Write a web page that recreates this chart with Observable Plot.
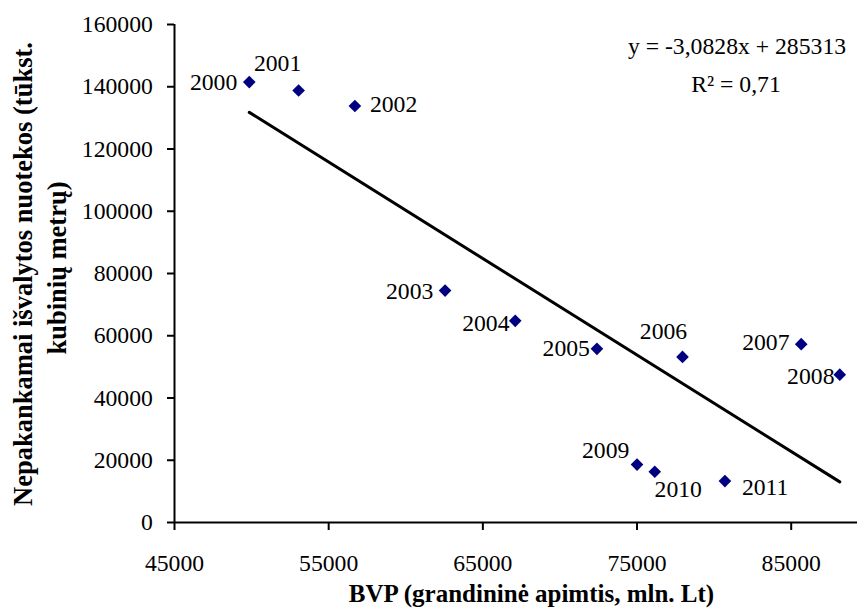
<!DOCTYPE html>
<html><head><meta charset="utf-8">
<script src="https://cdn.jsdelivr.net/npm/d3@7"></script>
<script src="https://cdn.jsdelivr.net/npm/@observablehq/plot@0.6"></script>
<style>body{margin:0;background:#fff} svg{display:block}</style>
</head><body><div id="chart"></div>
<script>
// ---- data ----
const years = ["2000","2001","2002","2003","2004","2005","2006","2007","2008","2009","2010","2011"];
const bvp = [49850, 53050, 56700, 62550, 67100, 72400, 77950, 85650, 88150, 75000, 76150, 80700];
const nuotekos = [141500, 138800, 133800, 74500, 64800, 55800, 53200, 57300, 47500, 18600, 16300, 13300];
const xTicks = [45000, 55000, 65000, 75000, 85000];
const yTicks = [0, 20000, 40000, 60000, 80000, 100000, 120000, 140000, 160000];
const xTitle = "BVP (grandininė apimtis, mln. Lt)";
const yTitleLines = ["Nepakankamai išvalytos nuotekos (tūkst.", "kubinių metrų)"];
const equationText = "y = -3,0828x + 285313";
const rSquaredText = "R² = 0,71";

// ---- label placement (styling only) ----
const labelPlacement = {
  "2000": {anchor: "end", dx: -12, dy: 0.7},
  "2001": {anchor: "middle", dx: -21, dy: -27},
  "2002": {anchor: "start", dx: 15, dy: -2},
  "2003": {anchor: "end", dx: -11.7, dy: 0.4},
  "2004": {anchor: "end", dx: -5.7, dy: 2.7},
  "2005": {anchor: "end", dx: -7, dy: 0},
  "2006": {anchor: "middle", dx: -19, dy: -26},
  "2007": {anchor: "end", dx: -11.7, dy: -1.5},
  "2008": {anchor: "end", dx: -5.3, dy: 1.8},
  "2009": {anchor: "end", dx: -7.7, dy: -14},
  "2010": {anchor: "middle", dx: 23.5, dy: 17.3},
  "2011": {anchor: "start", dx: 17, dy: 6.4}
};

const points = years.map((year, i) => ({year, x: bvp[i], y: nuotekos[i]}));
const FONT = '"Liberation Serif", "Times New Roman", serif';
const FS = 23.7;

const labelMarks = points.map(p => {
  const s = labelPlacement[p.year];
  return Plot.text([p], {x: "x", y: "y", text: "year", textAnchor: s.anchor, dx: s.dx, dy: s.dy,
    lineAnchor: "middle", fill: "black", fontSize: FS});
});

const chart = Plot.plot({
  width: 857, height: 609,
  marginLeft: 174, marginRight: 0, marginTop: 24, marginBottom: 87,
  style: {fontFamily: FONT, fontSize: FS + "px", background: "white", color: "black", overflow: "visible"},
  x: {domain: [45000, 89300]},
  y: {domain: [0, 160000]},
  marks: [
    Plot.axisX({ticks: xTicks, tickSize: 8, tickPadding: 24, tickFormat: d3.format("d"), label: null,
      stroke: "black", strokeWidth: 2, fill: "black", fontSize: FS}),
    Plot.axisY({ticks: yTicks, tickSize: 7, tickPadding: 14.6, tickFormat: d3.format("d"), label: null,
      stroke: "black", strokeWidth: 2, fill: "black", fontSize: FS}),
    Plot.ruleX([45000], {stroke: "black", strokeWidth: 2}),
    Plot.ruleY([0], {stroke: "black", strokeWidth: 2}),
    Plot.linearRegressionY(points, {x: "x", y: "y", stroke: "black", strokeWidth: 3, ci: 0}),
    Plot.dot(points, {x: "x", y: "y", symbol: "diamond2", r: 5.7, fill: "#000080", stroke: "none"}),
    ...labelMarks,
    Plot.text([equationText], {frameAnchor: "top-right", text: d => d, textAnchor: "middle", lineAnchor: "bottom",
      dx: -120.5, dy: 29.3, fill: "black", fontSize: FS}),
    Plot.text([rSquaredText], {frameAnchor: "top-right", text: d => d, textAnchor: "middle", lineAnchor: "bottom",
      dx: -121.5, dy: 67, fill: "black", fontSize: FS}),
    Plot.text([xTitle], {frameAnchor: "bottom", text: d => d, textAnchor: "middle", lineAnchor: "bottom",
      dx: 15.5, dy: 79.7, fill: "black", fontSize: 25, fontWeight: "bold"}),
    Plot.text([yTitleLines[0]], {frameAnchor: "left", text: d => d, textAnchor: "middle", lineAnchor: "bottom",
      rotate: -90, dx: 31.7 - 174, dy: 0.5, fill: "black", fontSize: 26.5, fontWeight: "bold"}),
    Plot.text([yTitleLines[1]], {frameAnchor: "left", text: d => d, textAnchor: "middle", lineAnchor: "bottom",
      rotate: -90, dx: 65 - 174, dy: -5.5, fill: "black", fontSize: 26.5, fontWeight: "bold"})
  ]
});
document.getElementById("chart").appendChild(chart);
</script>
</body></html>
